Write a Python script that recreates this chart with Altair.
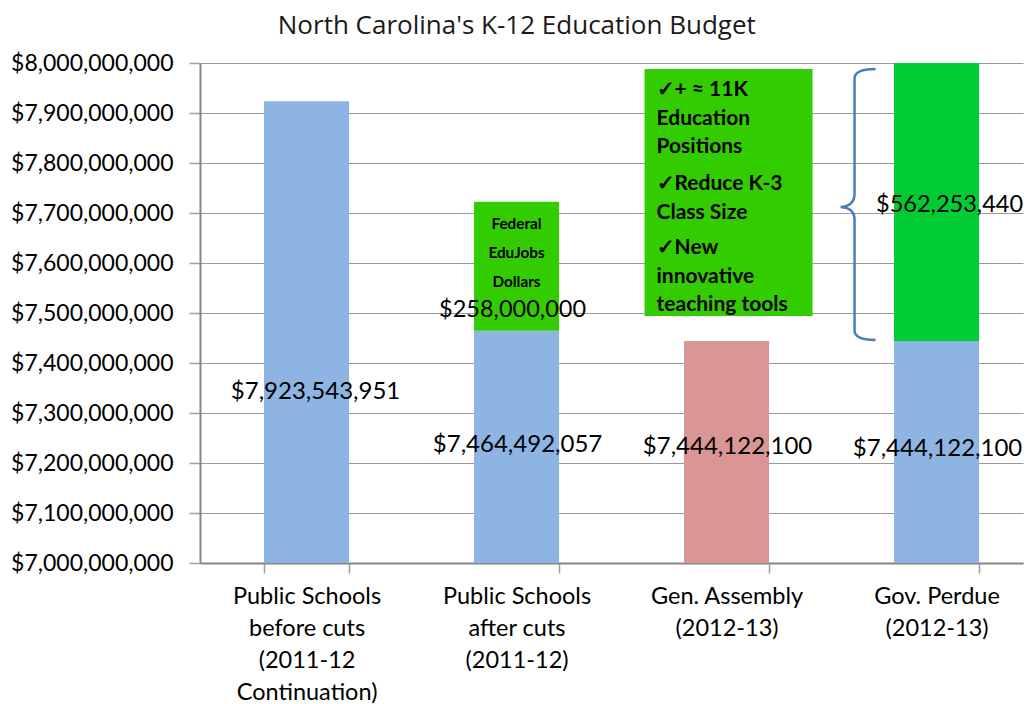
import altair as alt
import pandas as pd

# ---- data ----
categories = [
    "Public Schools|before cuts|(2011-12|Continuation)",
    "Public Schools|after cuts|(2011-12)",
    "Gen. Assembly|(2012-13)",
    "Gov. Perdue|(2012-13)",
]
base_values = [7923543951, 7464492057, 7444122100, 7444122100]
added_values = [0, 258000000, 0, 562253440]
base_colors = ["#8EB4E3", "#8EB4E3", "#D99694", "#8EB4E3"]
added_colors = ["#33CC00", "#33CC00", "#33CC00", "#00CC33"]

base_labels = ["$7,923,543,951", "$7,464,492,057", "$7,444,122,100", "$7,444,122,100"]
base_label_y = [7342000000, 7236000000, 7232000000, 7228000000]
base_label_dx = [9, 1, 1, 1]
added_labels = ["", "$258,000,000", "", "$562,253,440"]
added_label_y = [0, 7506000000, 0, 7716000000]
added_label_dx = [0, -4, 0, 13]

# annotation box (Gen. Assembly column)
box_bottom = 7494000000
box_top = 7988000000
box_groups = [
    ["\u2713+ \u2248 11K", "Education", "Positions"],
    ["\u2713Reduce K-3", "Class Size"],
    ["\u2713New", "innovative", "teaching tools"],
]
box_group_y = [7946000000, 7758000000, 7630000000]

edujobs_lines = ["Federal", "EduJobs", "Dollars"]
edujobs_y = 7678000000

brace_center_y = 7717000000

Y_MIN, Y_MAX = 7000000000, 8000000000
FONT = "Lato"

# ---- tables ----
rows = []
for c, b, a, bc, ac in zip(categories, base_values, added_values, base_colors, added_colors):
    rows.append({"cat": c, "y0": Y_MIN, "y1": b, "color": bc})
    if a:
        rows.append({"cat": c, "y0": b, "y1": b + a, "color": ac})
bars_df = pd.DataFrame(rows)

xscale = alt.Scale(domain=categories, paddingInner=0.595, paddingOuter=0.257, align=0.593)
yscale = alt.Scale(domain=[Y_MIN, Y_MAX], nice=False)

x_enc = alt.X(
    "cat:N",
    scale=xscale,
    sort=categories,
    title=None,
    axis=alt.Axis(
        labelExpr="split(datum.label, '|')",
        labelAngle=0,
        labelFont=FONT,
        labelFontSize=23.5,
        labelLineHeight=32,
        labelColor="black",
        labelBaseline="top",
        labelPadding=11,
        tickBand="extent",
        tickSize=10,
        tickColor="#A0A0A0",
        tickWidth=1.5,
        domainColor="#868686",
        domainWidth=2,
        grid=False,
    ),
)
y_axis = alt.Axis(
    values=[Y_MIN + i * 100000000 for i in range(11)],
    format="$,.0f",
    labelFont=FONT,
    labelFontSize=23,
    labelColor="black",
    labelPadding=16,
    tickSize=11,
    tickColor="#A0A0A0",
    tickWidth=1.5,
    domainColor="#868686",
    domainWidth=2,
    gridColor="#9A9A9A",
    gridWidth=1.2,
    title=None,
)

bars = alt.Chart(bars_df).mark_bar(clip=True).encode(
    x=x_enc,
    y=alt.Y("y0:Q", scale=yscale, axis=y_axis),
    y2="y1:Q",
    color=alt.Color("color:N", scale=None),
)

box_df = pd.DataFrame({"cat": [categories[2]], "y0": [box_bottom], "y1": [box_top]})
box = alt.Chart(box_df).mark_bar(width=168, color="#33CC00", xOffset=2).encode(
    x=alt.X("cat:N", scale=xscale, sort=categories),
    y=alt.Y("y0:Q", scale=yscale),
    y2="y1:Q",
)

box_text_layers = []
for lines, gy in zip(box_groups, box_group_y):
    d = pd.DataFrame({"cat": [categories[2]], "y": [gy], "t": [lines]})
    box_text_layers.append(
        alt.Chart(d).mark_text(
            align="left", baseline="middle", dx=-70, font=FONT, fontSize=21,
            fontWeight="bold", color="black", lineHeight=28.5,
        ).encode(
            x=alt.X("cat:N", scale=xscale, sort=categories),
            y=alt.Y("y:Q", scale=yscale),
            text="t",
        )
    )

edu_df = pd.DataFrame({"cat": [categories[1]], "y": [edujobs_y], "t": [edujobs_lines]})
edu_text = alt.Chart(edu_df).mark_text(
    align="center", baseline="middle", font=FONT, fontSize=15.3, fontWeight="bold",
    color="black", lineHeight=29,
).encode(
    x=alt.X("cat:N", scale=xscale, sort=categories),
    y=alt.Y("y:Q", scale=yscale),
    text="t",
)

label_layers = []
for c, t, ly, dx in zip(categories, base_labels, base_label_y, base_label_dx):
    d = pd.DataFrame({"cat": [c], "y": [ly], "t": [t]})
    label_layers.append(
        alt.Chart(d).mark_text(
            align="center", baseline="middle", dx=dx, font=FONT, fontSize=24, color="black"
        ).encode(
            x=alt.X("cat:N", scale=xscale, sort=categories),
            y=alt.Y("y:Q", scale=yscale),
            text="t",
        )
    )
for c, t, ly, dx in zip(categories, added_labels, added_label_y, added_label_dx):
    if not t:
        continue
    d = pd.DataFrame({"cat": [c], "y": [ly], "t": [t]})
    label_layers.append(
        alt.Chart(d).mark_text(
            align="center", baseline="middle", dx=dx, font=FONT, fontSize=23.5, color="black"
        ).encode(
            x=alt.X("cat:N", scale=xscale, sort=categories),
            y=alt.Y("y:Q", scale=yscale),
            text="t",
        )
    )

brace_path = (
    "M 0.155 -1 Q 0 -1 0 -0.93 L 0 -0.08 Q 0 0.01 -0.103 0.018 "
    "Q 0 0.026 0 0.11 L 0 0.93 Q 0 1 0.155 1"
)
brace_df = pd.DataFrame({"cat": [categories[3]], "y": [brace_center_y]})
brace = alt.Chart(brace_df).mark_point(
    shape=brace_path, size=73441, filled=False, stroke="#4A7EBB", strokeWidth=2.5,
    opacity=1, xOffset=-82,
).encode(
    x=alt.X("cat:N", scale=xscale, sort=categories),
    y=alt.Y("y:Q", scale=yscale),
)

chart = alt.layer(
    bars, box, *box_text_layers, edu_text, *label_layers, brace
).properties(
    width=823,
    height=500,
    title=alt.TitleParams(
        "North Carolina's K-12 Education Budget",
        font="Open Sans", fontSize=26, fontWeight="normal", color="#1a1a1a",
        anchor="middle", frame="bounds", offset=13,
    ),
    padding={"left": 2, "top": 5, "right": 0, "bottom": 0},
).configure_view(stroke=None)

chart.save("out.html", embed_options={"renderer": "svg", "actions": False})
